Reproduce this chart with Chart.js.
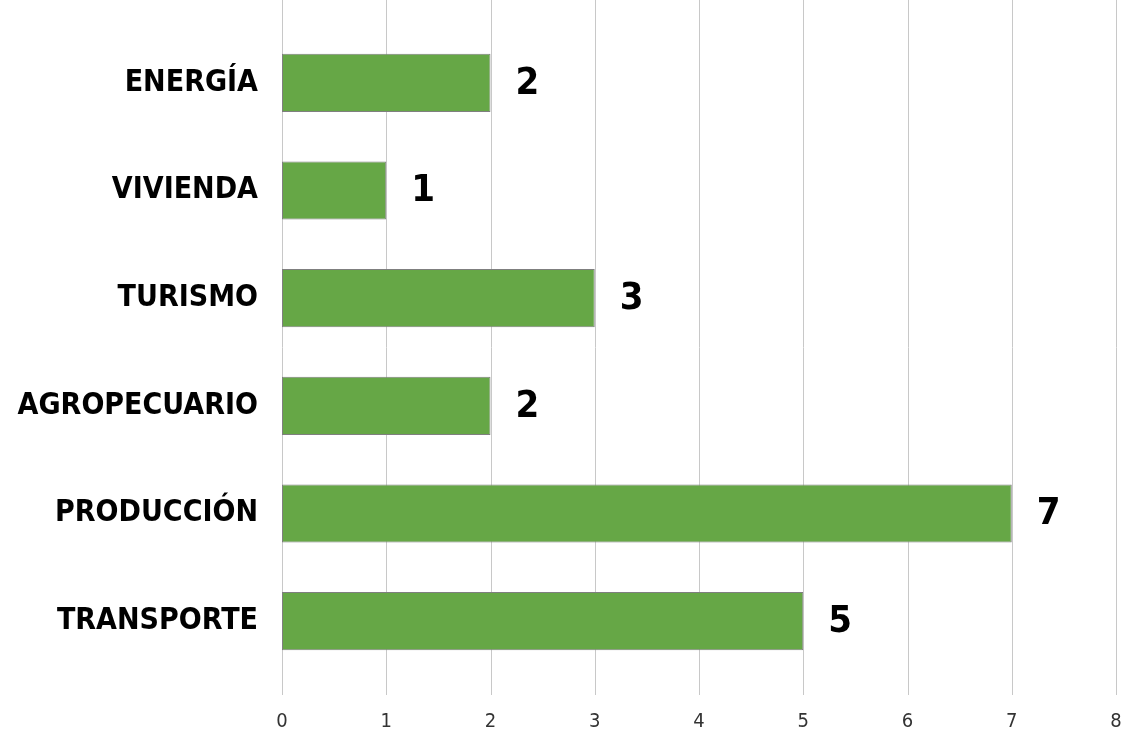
<!DOCTYPE html>
<html>
<head>
<meta charset="utf-8">
<script src="https://cdn.jsdelivr.net/npm/chart.js@4/dist/chart.umd.min.js"></script>
<style>
  html,body{margin:0;padding:0;background:#fff;}
  #wrap{width:1122px;height:733px;position:relative;}
</style>
</head>
<body>
<div id="wrap"><canvas id="c"></canvas></div>
<script>
// datos del gráfico
const sectores=['ENERGÍA','VIVIENDA','TURISMO','AGROPECUARIO','PRODUCCIÓN','TRANSPORTE'];
const cantidades=[2,1,3,2,7,5];
const ejeMin=0, ejeMax=8;

const FONT='"DejaVu Sans Condensed","Liberation Sans Narrow","DejaVu Sans",sans-serif';
const gridCol='#c8c8c8';

// líneas de grilla a toda la altura (arriba del área y bajando hasta las marcas)
const fullGrid={
  id:'fullGrid',
  beforeDatasetsDraw(chart){
    const {ctx,scales:{x}}=chart;
    ctx.save();
    ctx.strokeStyle=gridCol;ctx.lineWidth=1;
    for(let v=ejeMin;v<=ejeMax;v++){
      const px=Math.round(x.getPixelForValue(v))+0.5;
      ctx.beginPath();ctx.moveTo(px,0);ctx.lineTo(px,695);ctx.stroke();
    }
    ctx.restore();
  }
};
// números al final de cada barra
const valueLabels={
  id:'valueLabels',
  afterDatasetsDraw(chart){
    const {ctx}=chart;
    const meta=chart.getDatasetMeta(0);
    ctx.save();
    ctx.font='bold 38px '+FONT;
    ctx.fillStyle='#000';ctx.textAlign='left';ctx.textBaseline='middle';
    meta.data.forEach((bar,i)=>{
      ctx.fillText(String(cantidades[i]),bar.x+25,bar.y+1);
    });
    ctx.restore();
  }
};

new Chart(document.getElementById('c').getContext('2d'),{
  type:'bar',
  data:{labels:sectores,datasets:[{data:cantidades,backgroundColor:'#66a746',borderColor:'#7f7f7f',borderWidth:1,borderSkipped:false,barPercentage:0.54,categoryPercentage:1}]},
  options:{
    indexAxis:'y',responsive:true,maintainAspectRatio:false,animation:false,
    layout:{padding:{top:29,right:6,left:0,bottom:0}},
    plugins:{legend:{display:false},tooltip:{enabled:false}},
    scales:{
      x:{min:ejeMin,max:ejeMax,
        grid:{display:false,drawTicks:false},border:{display:false},
        ticks:{stepSize:1,color:'#333',padding:35,font:{family:FONT,size:20}},
        afterFit(s){s.height=58;s.paddingLeft=0;s.paddingRight=0;}},
      y:{grid:{display:false},border:{display:false},
        ticks:{color:'#000',padding:16,font:{family:FONT,size:30,weight:'bold'}},
        afterFit(s){s.width=282;s.paddingTop=0;s.paddingBottom=0;}}
    }
  },
  plugins:[fullGrid,valueLabels]
});
</script>
</body>
</html>
